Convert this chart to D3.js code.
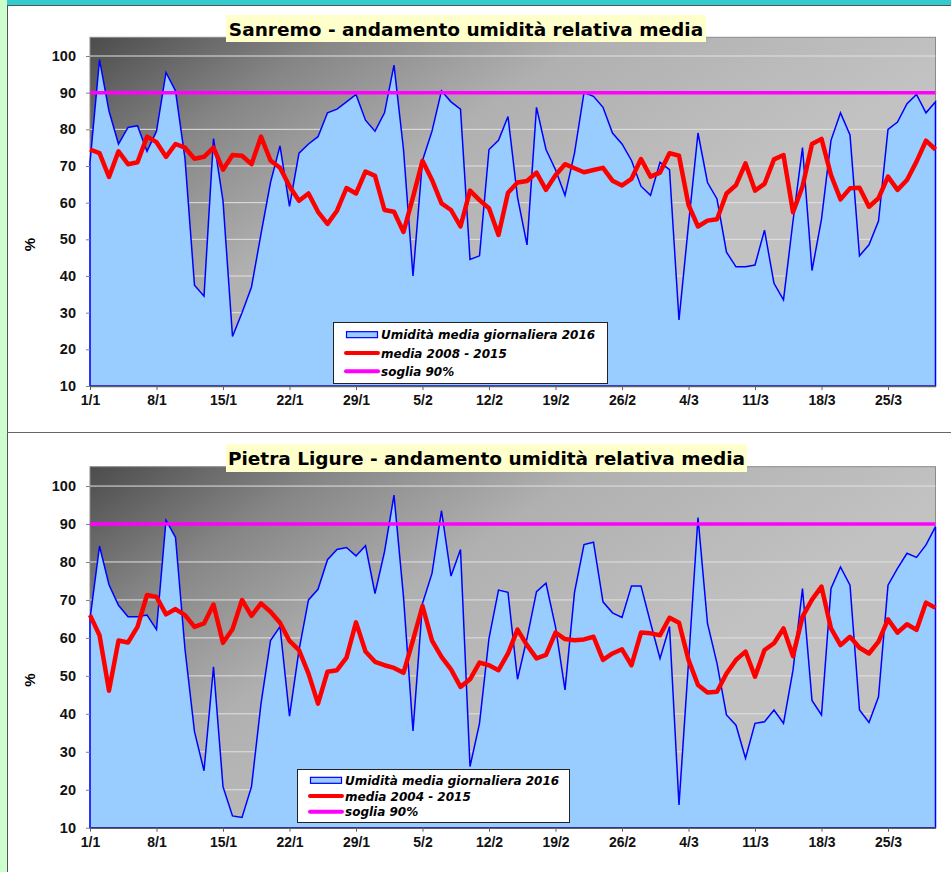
<!DOCTYPE html>
<html>
<head>
<meta charset="utf-8">
<script src="https://cdn.jsdelivr.net/npm/d3@7"></script>
<style>
  body { margin: 0; background: #fff; }
  svg { display: block; font-family: "Liberation Sans", Arial, sans-serif; }
</style>
</head>
<body>
<div id="chart"></div>
<script>
// days 1/1 .. 30/3 2016 (90 points), tick every 7 days
let tickIdx = [0, 7, 14, 21, 28, 35, 42, 49, 56, 63, 70, 77, 84]
let tickLabels = ['1/1', '8/1', '15/1', '22/1', '29/1', '5/2', '12/2', '19/2', '26/2', '4/3', '11/3', '18/3', '25/3']
let yTicks = [10, 20, 30, 40, 50, 60, 70, 80, 90, 100]
let soglia = 90

let sanremo2016 = [
  71, 99, 85, 76, 80.5, 81, 74, 79.5, 95.5, 90.5,
  72, 37.5, 34.5, 77.5, 60.5, 23.5, 30, 37, 51.5, 65.5,
  75.5, 59, 73.5, 76, 78, 84.5, 85.5, 87.5, 89.5, 82.5,
  79.5, 84.5, 97.5, 74.5, 40, 71.5, 79.5, 90.5, 87.5, 85.5,
  44.5, 45.5, 74.5, 77, 83.5, 61.5, 48.5, 86, 74.5, 69,
  62, 73.5, 90, 89, 86, 79, 76, 71.5, 64.5, 62,
  71, 69, 28, 54, 79, 65.5, 61, 46.5, 42.5, 42.5,
  43, 52.5, 38, 33.5, 55, 75, 41.5, 55.5, 77, 84.5,
  78.5, 45.5, 48.5, 55, 80, 82, 87, 89.5, 84.5, 87.5
]
let sanremoMedia = [
  74.5, 73.5, 67, 74, 70.5, 71, 78, 76.5, 72.5, 76,
  75, 72, 72.5, 75, 69, 73, 72.8, 70.5, 78, 71.5,
  69.5, 64.5, 60.5, 62.5, 57.5, 54.2, 57.8, 64, 62.5, 68.5,
  67.3, 58, 57.5, 52, 61.5, 71.4, 66.2, 59.8, 58, 53.5,
  63.3, 60.7, 58.5, 51.2, 62.7, 65.5, 65.9, 68.2, 63.5, 67.5,
  70.5, 69.4, 68.3, 68.9, 69.5, 66, 64.7, 66.5, 71.9, 67.1,
  68.2, 73.5, 72.8, 59.4, 53.5, 55.1, 55.5, 62.5, 64.8, 70.7,
  63.3, 65.1, 71.8, 73, 57.4, 64.4, 76, 77.4, 67.5, 60.9,
  63.9, 64.1, 58.9, 61.2, 67.1, 63.5, 66.2, 71.2, 76.9, 74.5
]
let pietra2016 = [
  65, 84.2, 74, 68.6, 65.6, 65.6, 66, 62.2, 91, 86.5,
  57, 35.3, 25, 52.4, 20.8, 13.1, 12.7, 20.8, 42.7, 59.3,
  63, 39.4, 56.8, 70, 72.8, 80.6, 83.3, 83.8, 81.6, 84.3,
  71.7, 82.7, 97.6, 70.8, 35.5, 69.1, 77, 93.5, 76.3, 83.3,
  26.1, 37.5, 59.9, 72.6, 72, 49.1, 59.9, 72.2, 74.4, 62.9,
  46.3, 72, 84.6, 85.2, 69.5, 66.6, 65.4, 73.7, 73.7, 64,
  54.6, 63, 16, 53.5, 91.7, 63.8, 53.3, 39.7, 37, 28.3,
  37.5, 37.9, 41, 37.5, 51.5, 73, 43.5, 39.7, 73, 78.7,
  73.9, 41, 37.7, 44.5, 73.9, 78.3, 82.3, 81.2, 84.5, 89.3
]
let pietraMedia = [
  66, 60.7, 46.1, 59.3, 58.8, 62.9, 71.3, 70.8, 66.2, 67.6,
  66, 62.9, 63.8, 68.8, 58.7, 62.3, 70, 65.8, 69.1, 66.9,
  64, 59.2, 56.8, 50.6, 42.7, 51.1, 51.5, 54.8, 64.1, 56.4,
  53.7, 52.8, 52.1, 50.8, 59.4, 68.4, 59.3, 55, 51.7, 47.1,
  49.1, 53.5, 52.8, 51.5, 55.9, 62.2, 58.1, 54.6, 55.5, 61.4,
  59.7, 59.4, 59.6, 60.3, 54.2, 55.9, 57, 52.8, 61.4, 61.2,
  60.7, 65.3, 64, 54.2, 47.6, 45.6, 45.8, 50.6, 54.2, 56.4,
  49.8, 56.8, 58.6, 62.5, 55.2, 65.6, 70.1, 73.5, 62.5, 58.1,
  60.3, 57.4, 55.9, 59, 64.9, 61.4, 63.6, 62.1, 69.3, 67.9
]

let panels = [
  {
    id: 0, title: 'Sanremo - andamento umidità relativa media',
    top: 37.3, bottom: 386, titleBox: [226, 15, 480, 27],
    legend: [333, 322, 274, 61], legendLabels: ['Umidità media giornaliera 2016', 'media 2008 - 2015', 'soglia 90%'],
    daily: sanremo2016, media: sanremoMedia
  },
  {
    id: 1, title: 'Pietra Ligure - andamento umidità relativa media',
    top: 466.7, bottom: 827.7, titleBox: [226, 444, 521, 28],
    legend: [297, 769, 272, 53], legendLabels: ['Umidità media giornaliera 2016', 'media 2004 - 2015', 'soglia 90%'],
    daily: pietra2016, media: pietraMedia
  }
]

let W = 951, H = 872
let left = 90, right = 935.5
let wideFont = '"DejaVu Sans", Verdana, sans-serif'

let svg = d3.select('#chart').append('svg')
  .attr('width', W)
  .attr('height', H)

let defs = svg.append('defs')

// page frame
svg.append('rect').attr('x', 0).attr('y', 0).attr('width', W).attr('height', 5).attr('fill', '#33cccc')
svg.append('rect').attr('x', 0).attr('y', 0).attr('width', 7).attr('height', H).attr('fill', '#ccffcc')
svg.append('line').attr('x1', 7).attr('y1', 5.5).attr('x2', W).attr('y2', 5.5).attr('stroke', '#555')
svg.append('line').attr('x1', 7.5).attr('y1', 5).attr('x2', 7.5).attr('y2', H).attr('stroke', '#555')
svg.append('line').attr('x1', 7).attr('y1', 432.5).attr('x2', W).attr('y2', 432.5).attr('stroke', '#666')

let x = d3.scaleLinear().domain([0, 89]).range([left, right])

function drawPanel(p) {
  let y = d3.scaleLinear().domain([10, 105.1]).range([p.bottom, p.top])
  let g = svg.append('g')

  // gradient background
  let grad = defs.append('linearGradient')
    .attr('id', `bg${p.id}`)
    .attr('gradientUnits', 'userSpaceOnUse')
    .attr('x1', left).attr('y1', p.top)
    .attr('x2', left + 277).attr('y2', p.top + 415)
  let stops = [[0, '#4c4c4c'], [0.12, '#666666'], [0.27, '#868686'], [0.56, '#b0b0b0'], [0.95, '#c0c0c0'], [1, '#c2c2c2']]
  stops.forEach(s => grad.append('stop').attr('offset', s[0]).attr('stop-color', s[1]))

  g.append('rect')
    .attr('x', left).attr('y', p.top)
    .attr('width', right - left).attr('height', p.bottom - p.top)
    .attr('fill', `url(#bg${p.id})`)
    .attr('stroke', '#8a8a8a')

  // gridlines
  g.selectAll('.grid').data(yTicks.filter(t => t > 10)).enter().append('line')
    .attr('x1', left).attr('x2', right)
    .attr('y1', d => y(d)).attr('y2', d => y(d))
    .attr('stroke', '#e2e2e2').attr('stroke-width', 1)

  // daily area
  let area = d3.area().x((d, i) => x(i)).y0(y(10)).y1(d => y(d))
  g.append('path')
    .datum(p.daily)
    .attr('d', d => area(d) )
    .attr('fill', '#99ccff')
    .attr('stroke', '#0000ff')
    .attr('stroke-width', 1.5)
    .attr('stroke-linejoin', 'miter')

  // threshold
  g.append('line')
    .attr('x1', left).attr('x2', right)
    .attr('y1', y(soglia)).attr('y2', y(soglia))
    .attr('stroke', '#ff00ff').attr('stroke-width', 3.5)

  // media line
  let line = d3.line().x((d, i) => x(i)).y(d => y(d))
  g.append('path')
    .datum(p.media)
    .attr('d', line)
    .attr('fill', 'none')
    .attr('stroke', '#ff0000')
    .attr('stroke-width', 4.5)
    .attr('stroke-linejoin', 'round')

  // axes
  let yAxis = g.append('g')
    .attr('transform', `translate(${left},0)`)
    .call(d3.axisLeft(y).tickValues(yTicks).tickSize(4).tickSizeOuter(0).tickPadding(10))
  yAxis.select('.domain').remove()
  yAxis.selectAll('line').attr('stroke', '#808080')
  yAxis.selectAll('text').attr('font-size', 14.5).attr('font-weight', 'bold').attr('fill', '#111')
    .attr('font-family', '"Liberation Sans", Arial, sans-serif')

  let xAxis = g.append('g')
    .attr('transform', `translate(0,${p.bottom})`)
    .call(d3.axisBottom(x).tickValues(tickIdx).tickFormat((d, i) => tickLabels[i]).tickSize(4).tickSizeOuter(0).tickPadding(5))
  xAxis.select('.domain').attr('stroke', '#606060').attr('stroke-width', 1.5)
  xAxis.selectAll('line').attr('stroke', '#606060')
  xAxis.selectAll('text').attr('font-size', 14).attr('font-weight', 'bold').attr('fill', '#111')
    .attr('font-family', '"Liberation Sans", Arial, sans-serif')

  // % label
  let midY = (p.top + p.bottom) / 2 + 33
  g.append('text')
    .attr('transform', `translate(35,${midY}) rotate(-90)`)
    .attr('text-anchor', 'middle')
    .attr('font-size', 15).attr('font-weight', 'bold')
    .text('%')

  // title
  let tb = p.titleBox
  g.append('rect').attr('x', tb[0]).attr('y', tb[1]).attr('width', tb[2]).attr('height', tb[3]).attr('fill', '#ffffcc')
  g.append('text')
    .attr('x', tb[0] + tb[2] / 2).attr('y', tb[1] + tb[3] / 2 + 7)
    .attr('text-anchor', 'middle')
    .attr('font-family', wideFont)
    .attr('font-size', 18.5).attr('font-weight', 'bold')
    .text(p.title)

  // legend
  let lg = p.legend
  let leg = g.append('g').attr('transform', `translate(${lg[0]},${lg[1]})`)
  leg.append('rect').attr('x', 0.5).attr('y', 0.5).attr('width', lg[2]).attr('height', lg[3])
    .attr('fill', '#fff').attr('stroke', '#222')
  let rowH = (lg[3] - 6) / 3
  p.legendLabels.forEach((lab, i) => {
    let cy = 3 + rowH * (i + 0.5) + 0.5
    if (i == 0) {
      leg.append('rect').attr('x', 13.5).attr('y', cy - 3).attr('width', 31).attr('height', 6)
        .attr('fill', '#99ccff').attr('stroke', '#0000ff').attr('stroke-width', 1.2)
    } else {
      leg.append('line').attr('x1', 13).attr('x2', 45).attr('y1', cy).attr('y2', cy)
        .attr('stroke', i == 1 ? '#ff0000' : '#ff00ff').attr('stroke-width', 4)
        .attr('stroke-linecap', 'round')
    }
    leg.append('text')
      .attr('x', 48).attr('y', cy + 4.5)
      .attr('font-family', wideFont)
      .attr('font-size', 12).attr('font-weight', 'bold').attr('font-style', 'italic')
      .text(lab)
  })
}

panels.forEach(drawPanel)
</script>
</body>
</html>
